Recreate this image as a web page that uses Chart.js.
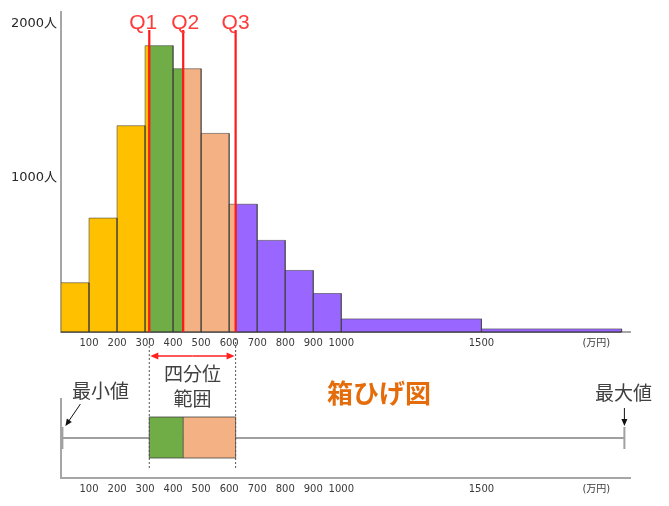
<!DOCTYPE html>
<html>
<head>
<meta charset="utf-8">
<script src="https://cdn.jsdelivr.net/npm/chart.js@4.4.0/dist/chart.umd.min.js"></script>
<style>
  html, body { margin: 0; padding: 0; background: #fff; }
  #wrap { position: relative; width: 669px; height: 506px; }
  #histChart { position: absolute; left: 0; top: 0; }
  #boxChart { position: absolute; left: 0; top: 334px; }
</style>
</head>
<body>
<div id="wrap">
  <canvas id="histChart" width="669" height="360"></canvas>
  <canvas id="boxChart" width="669" height="172"></canvas>
</div>
<script>
// histogram bins (万円) and number of people in each
const binEdges = [0, 100, 200, 300, 400, 500, 600, 700, 800, 900, 1000, 1500, 2000];
const counts = [320, 740, 1340, 1860, 1710, 1290, 830, 595, 400, 250, 85, 20];

// five number summary for the box plot
const minValue = 5;
const quartiles = [315, 436, 623];
const maxValue = 2010;
const quartileNames = ['Q1', 'Q2', 'Q3'];

// axis labels
const xTickValues = [100, 200, 300, 400, 500, 600, 700, 800, 900, 1000, 1500];
const xUnitAt = 1910;
const xUnitLabel = '(万円)';
const yTickValues = [1000, 2000];
const yUnit = '人';

const segColors = ['#FFC000', '#70AD47', '#F4B183', '#9966FF'];
const jpFont = '"Noto Sans CJK JP", sans-serif';

// split every bin at the quartiles so each piece gets its own colour
const breaks = [-Infinity, ...quartiles, Infinity];
const histDatasets = [];
counts.forEach((c, i) => {
    const a = binEdges[i], b = binEdges[i + 1];
    for (let s = 0; s < segColors.length; s++) {
        const lo = Math.max(a, breaks[s]);
        const hi = Math.min(b, breaks[s + 1]);
        if (hi <= lo) continue;
        histDatasets.push({
            data: [{x: lo, y: 0}, {x: lo, y: c}, {x: hi, y: c}, {x: hi, y: 0}],
            backgroundColor: segColors[s],
            borderColor: 'rgba(60,60,60,0.55)',
            borderWidth: 1,
            fill: 'origin',
            pointRadius: 0,
            tension: 0
        });
    }
});

function xScaleOpts() {
    return {
        type: 'linear',
        min: 0,
        max: 2030,
        grid: { display: false, drawTicks: false },
        border: { color: '#a6a6a6', width: 2 },
        afterBuildTicks: s => { s.ticks = xTickValues.concat([xUnitAt]).map(v => ({ value: v })); },
        afterFit: s => { s.height = 28; },
        ticks: {
            autoSkip: false,
            maxRotation: 0,
            padding: 5,
            color: '#3a3a3a',
            font: { family: '"DejaVu Sans", "Noto Sans CJK JP"', size: 10 },
            callback: v => v === xUnitAt ? xUnitLabel : v
        }
    };
}

function arrow(ctx, x1, y1, x2, y2, len, half) {
    const ang = Math.atan2(y2 - y1, x2 - x1);
    ctx.beginPath();
    ctx.moveTo(x1, y1);
    ctx.lineTo(x2 - Math.cos(ang) * len * 0.6, y2 - Math.sin(ang) * len * 0.6);
    ctx.stroke();
    ctx.beginPath();
    ctx.moveTo(x2, y2);
    ctx.lineTo(x2 - Math.cos(ang) * len - Math.sin(ang) * half, y2 - Math.sin(ang) * len + Math.cos(ang) * half);
    ctx.lineTo(x2 - Math.cos(ang) * len + Math.sin(ang) * half, y2 - Math.sin(ang) * len - Math.cos(ang) * half);
    ctx.closePath();
    ctx.fill();
}

const quartilePlugin = {
    id: 'quartileLines',
    afterDatasetsDraw(chart) {
        const { ctx, scales: { x, y } } = chart;
        ctx.save();
        ctx.strokeStyle = 'rgba(50,50,50,0.8)';
        ctx.lineWidth = 1.5;
        ctx.beginPath();
        ctx.moveTo(x.getPixelForValue(binEdges[0]), y.bottom);
        ctx.lineTo(x.getPixelForValue(binEdges[binEdges.length - 1]), y.bottom);
        ctx.stroke();

        const labelShift = [-6, 2, 0];
        quartiles.forEach((q, i) => {
            const px = x.getPixelForValue(q);
            ctx.strokeStyle = '#FF1A1A';
            ctx.lineWidth = 2.2;
            ctx.beginPath();
            ctx.moveTo(px, 30);
            ctx.lineTo(px, y.bottom);
            ctx.stroke();
            ctx.fillStyle = '#FF3B3B';
            ctx.font = '21px "Liberation Sans"';
            ctx.textAlign = 'center';
            ctx.textBaseline = 'middle';
            ctx.fillText(quartileNames[i], px + labelShift[i], 23);
        });
        ctx.restore();
    }
};

new Chart(document.getElementById('histChart'), {
    type: 'line',
    data: { datasets: histDatasets },
    options: {
        responsive: false,
        animation: false,
        layout: { padding: { top: 10, right: 39, left: 0, bottom: 0 } },
        plugins: {
            legend: { display: false },
            tooltip: { enabled: false },
            filler: { drawTime: 'beforeDatasetsDraw' }
        },
        scales: {
            x: xScaleOpts(),
            y: {
                min: 0,
                max: 2080,
                grid: { display: false, drawTicks: false },
                border: { color: '#a6a6a6', width: 2 },
                afterBuildTicks: s => { s.ticks = yTickValues.map(v => ({ value: v })); },
                afterFit: s => { s.width = 61; },
                ticks: {
                    padding: 4,
                    color: '#262626',
                    font: { family: '"DejaVu Sans", "Noto Sans CJK JP"', size: 13 },
                    callback: v => v + yUnit
                }
            }
        }
    },
    plugins: [quartilePlugin]
});

const boxPlugin = {
    id: 'boxPlot',
    afterDraw(chart) {
        const { ctx, scales: { x } } = chart;
        const xMin = x.getPixelForValue(minValue);
        const xMax = x.getPixelForValue(maxValue);
        const xq = quartiles.map(q => x.getPixelForValue(q));
        const midY = 104, boxTop = 83, boxBottom = 124;
        ctx.save();

        // whisker and end marks
        ctx.strokeStyle = '#a0a0a0';
        ctx.lineWidth = 2;
        ctx.beginPath();
        ctx.moveTo(xMin, midY); ctx.lineTo(xMax, midY);
        ctx.moveTo(xMin, midY - 11); ctx.lineTo(xMin, midY + 11);
        ctx.moveTo(xMax, midY - 11); ctx.lineTo(xMax, midY + 11);
        ctx.stroke();

        // box
        ctx.fillStyle = segColors[1];
        ctx.fillRect(xq[0], boxTop, xq[1] - xq[0], boxBottom - boxTop);
        ctx.fillStyle = segColors[2];
        ctx.fillRect(xq[1], boxTop, xq[2] - xq[1], boxBottom - boxTop);
        ctx.strokeStyle = 'rgba(60,60,60,0.75)';
        ctx.lineWidth = 1;
        ctx.strokeRect(xq[0], boxTop, xq[2] - xq[0], boxBottom - boxTop);
        ctx.beginPath();
        ctx.moveTo(xq[1], boxTop); ctx.lineTo(xq[1], boxBottom);
        ctx.stroke();

        // dotted guides at Q1 and Q3
        ctx.setLineDash([2, 2]);
        ctx.strokeStyle = '#555';
        ctx.beginPath();
        ctx.moveTo(xq[0], 4); ctx.lineTo(xq[0], 136);
        ctx.moveTo(xq[2], 4); ctx.lineTo(xq[2], 136);
        ctx.stroke();
        ctx.setLineDash([]);

        // interquartile range double arrow
        ctx.strokeStyle = '#FF2020';
        ctx.fillStyle = '#FF2020';
        ctx.lineWidth = 1.5;
        const ay = 22, mid = (xq[0] + xq[2]) / 2;
        arrow(ctx, mid, ay, xq[0] + 1, ay, 8, 3.5);
        arrow(ctx, mid, ay, xq[2] - 1, ay, 8, 3.5);

        // labels
        ctx.fillStyle = '#404040';
        ctx.font = '19px ' + jpFont;
        ctx.textAlign = 'center';
        ctx.textBaseline = 'middle';
        ctx.fillText('四分位', mid, 40);
        ctx.fillText('範囲', mid, 65);
        ctx.fillText('最小値', xMin + 38, 57);
        ctx.fillText('最大値', xMax - 1, 59);

        ctx.fillStyle = '#E46C0A';
        ctx.font = 'bold 26px ' + jpFont;
        ctx.textAlign = 'left';
        ctx.fillText('箱ひげ図', 327, 59);

        // pointer arrows to min and max
        ctx.strokeStyle = '#111';
        ctx.fillStyle = '#111';
        ctx.lineWidth = 1;
        arrow(ctx, xMin + 18, 70, xMin + 3, 92, 7, 3);
        arrow(ctx, xMax, 74, xMax, 92, 7, 3);
        ctx.restore();
    }
};

new Chart(document.getElementById('boxChart'), {
    type: 'line',
    data: { datasets: [] },
    options: {
        responsive: false,
        animation: false,
        layout: { padding: { top: 65, right: 39, left: 0, bottom: 0 } },
        plugins: { legend: { display: false }, tooltip: { enabled: false } },
        scales: {
            x: xScaleOpts(),
            y: {
                min: 0,
                max: 1,
                grid: { display: false, drawTicks: false },
                border: { color: '#a6a6a6', width: 2 },
                afterFit: s => { s.width = 61; },
                ticks: { display: false }
            }
        }
    },
    plugins: [boxPlugin]
});
</script>
</body>
</html>
